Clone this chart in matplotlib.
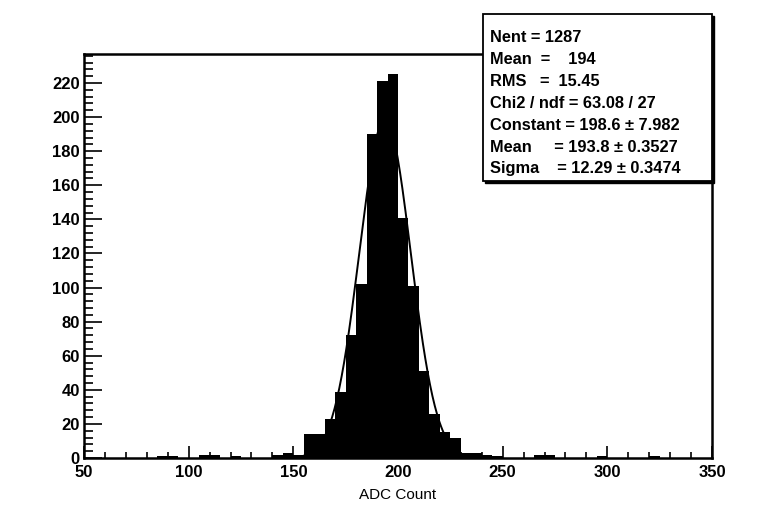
import numpy as np
import matplotlib
matplotlib.use("Agg")
import matplotlib.pyplot as plt
from matplotlib.patches import Rectangle
from matplotlib.ticker import MultipleLocator

# ---- data ----
bin_edges = np.arange(50, 355, 5)  # 5-ADC bins from 50 to 350
# counts per bin, keyed by bin lower edge
bin_counts = {
    85: 1, 90: 1, 105: 2, 110: 2, 120: 1, 140: 2, 145: 3, 150: 2,
    155: 14, 160: 14, 165: 23, 170: 39, 175: 72, 180: 102, 185: 190,
    190: 221, 195: 225, 200: 141, 205: 101, 210: 51, 215: 26, 220: 15,
    225: 12, 230: 3, 235: 3, 240: 2, 245: 1, 265: 2, 270: 2, 295: 1, 320: 1,
}
x_ticks = [50, 100, 150, 200, 250, 300, 350]
y_ticks = [0, 20, 40, 60, 80, 100, 120, 140, 160, 180, 200, 220]
x_label = "ADC Count"

# Gaussian fit parameters (from the stats box)
fit_const, fit_mean, fit_sigma = 198.6, 193.8, 12.29
fit_range = (155, 230)

stats_lines = [
    "Nent = 1287",
    "Mean  =    194",
    "RMS   =  15.45",
    "Chi2 / ndf = 63.08 / 27",
    "Constant = 198.6 \u00b1 7.982",
    "Mean     = 193.8 \u00b1 0.3527",
    "Sigma    = 12.29 \u00b1 0.3474",
]

counts = np.array([bin_counts.get(int(e), 0) for e in bin_edges[:-1]], dtype=float)

W, H = 773, 511
fig = plt.figure(figsize=(W / 100, H / 100), dpi=100)
fig.patch.set_facecolor("white")
plt.rcParams["font.family"] = ["Liberation Sans", "DejaVu Sans"]

L, R, T, B = 84, 712, 54, 458
ax = fig.add_axes([L / W, (H - B) / H, (R - L) / W, (B - T) / H])
ax.stairs(counts, bin_edges, fill=True, color="black", linewidth=0)

xf = np.linspace(fit_range[0], fit_range[1], 200)
yf = fit_const * np.exp(-0.5 * ((xf - fit_mean) / fit_sigma) ** 2)
ax.plot(xf, yf, color="black", lw=1.4)

ax.set_xlim(50, 350)
ax.set_ylim(0, 237)
ax.set_xticks(x_ticks)
ax.set_yticks(y_ticks)
ax.xaxis.set_minor_locator(MultipleLocator(10))
ax.yaxis.set_minor_locator(MultipleLocator(4))
ax.tick_params(axis="both", which="both", direction="in", color="black", width=1.2)
ax.tick_params(axis="y", which="major", length=13, labelsize=12, pad=3)
ax.tick_params(axis="y", which="minor", length=6.5)
ax.tick_params(axis="x", which="major", length=8.5, labelsize=12, pad=5)
ax.tick_params(axis="x", which="minor", length=4.3)
ax.tick_params(top=False, right=False, which="both")
for lab in ax.get_xticklabels() + ax.get_yticklabels():
    lab.set_fontweight("bold")
for sp in ax.spines.values():
    sp.set_linewidth(1.8)
ax.set_xlabel(x_label, fontsize=11, labelpad=6)

# stats box
bx0, bx1, by0, by1 = 483, 712, 14, 181
fig.patches.append(Rectangle((bx0 / W + 2 / W, (H - by1) / H - 2 / H), (bx1 - bx0) / W, (by1 - by0) / H,
                             transform=fig.transFigure, facecolor="black", edgecolor="black", zorder=9))
fig.patches.append(Rectangle((bx0 / W, (H - by1) / H), (bx1 - bx0) / W, (by1 - by0) / H,
                             transform=fig.transFigure, facecolor="white", edgecolor="black", lw=1.3, zorder=10))
for i, s in enumerate(stats_lines):
    y = 37 + i * 22
    fig.text(490 / W, 1 - y / H, s, ha="left", va="center", fontsize=11.8,
             fontweight="bold", zorder=11)

fig.savefig("out.png", dpi=100, facecolor="white")
